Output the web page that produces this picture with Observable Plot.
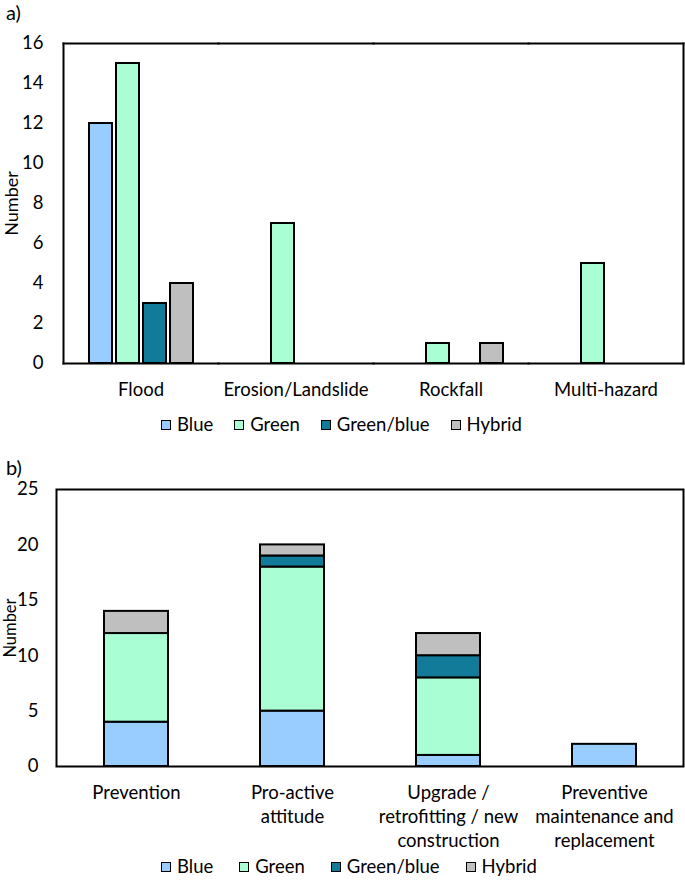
<!DOCTYPE html>
<html>
<head>
<meta charset="utf-8">
<script src="https://cdn.jsdelivr.net/npm/d3@7"></script>
<script src="https://cdn.jsdelivr.net/npm/@observablehq/plot@0.6"></script>
<style>
  html, body { margin: 0; padding: 0; background: white; }
  body { width: 685px; height: 881px; position: relative; font-family: Lato, "Open Sans", sans-serif; color: black; overflow: hidden; }
  .panel-label { position: absolute; left: 6px; font-size: 20px; line-height: 20px; }
  .chart { position: absolute; left: 0; }
  .legend { position: absolute; display: flex; align-items: center; font-size: 18.5px; line-height: 19px; }
  .legend .item { display: flex; align-items: center; }
  .legend .sw { width: 8px; height: 8px; border: 1.5px solid black; margin-right: 6px; }
</style>
</head>
<body>
<div class="panel-label" style="top:2px">a)</div>
<div id="chartA" class="chart" style="top:0px"></div>
<div id="legendA" class="legend" style="top:415px; left:161px; gap:21px"></div>
<div class="panel-label" style="top:457px">b)</div>
<div id="chartB" class="chart" style="top:460px"></div>
<div id="legendB" class="legend" style="top:857px; left:161px; gap:26px"></div>
<script>
// ---- data ----
const types = ["Blue", "Green", "Green/blue", "Hybrid"];
const typeColors = ["#99CCFF", "#A9FED4", "#127B99", "#BFBFBF"];

// a) by hazard
const hazards = ["Flood", "Erosion/Landslide", "Rockfall", "Multi-hazard"];
const blueA = [12, 0, 0, 0];
const greenA = [15, 7, 1, 5];
const greenBlueA = [3, 0, 0, 0];
const hybridA = [4, 0, 1, 0];
const yTicksA = [0, 2, 4, 6, 8, 10, 12, 14, 16];

// b) by approach
const approaches = ["Prevention", "Pro-active attitude", "Upgrade / retrofitting / new construction", "Preventive maintenance and replacement"];
const approachTickLabels = ["Prevention", "Pro-active\nattitude", "Upgrade /\nretrofitting / new\nconstruction", "Preventive\nmaintenance and\nreplacement"];
const blueB = [4, 5, 1, 2];
const greenB = [8, 13, 7, 0];
const greenBlueB = [0, 1, 2, 0];
const hybridB = [2, 1, 2, 0];
const yTicksB = [0, 5, 10, 15, 20, 25];

// ---- tables ----
const seriesA = [blueA, greenA, greenBlueA, hybridA];
const rowsA = [];
hazards.forEach((h, i) => types.forEach((t, j) => {
  if (seriesA[j][i] > 0) rowsA.push({hazard: h, type: t, value: seriesA[j][i]});
}));
const seriesB = [blueB, greenB, greenBlueB, hybridB];
const rowsB = [];
approaches.forEach((a, i) => types.forEach((t, j) => {
  if (seriesB[j][i] > 0) rowsB.push({approach: a, type: t, value: seriesB[j][i]});
}));

const style = {fontFamily: "Lato, 'Open Sans', sans-serif", fontSize: "18.5px", color: "black", overflow: "visible"};

const chartA = Plot.plot({
  width: 685, height: 405,
  marginTop: 43, marginBottom: 42, marginLeft: 63, marginRight: 2,
  style,
  fx: {domain: hazards, padding: 0},
  x: {domain: types, paddingInner: 0.16, paddingOuter: 0.85, axis: null},
  y: {domain: [0, 16]},
  color: {domain: types, range: typeColors},
  marks: [
    Plot.barY(rowsA, {fx: "hazard", x: "type", y: "value", fill: "type", stroke: "black", strokeWidth: 2}),
    Plot.frame({anchor: "top", stroke: "black", strokeWidth: 2}),
    Plot.frame({anchor: "bottom", stroke: "black", strokeWidth: 2}),
    Plot.frame({anchor: "left", facetAnchor: "left", stroke: "black", strokeWidth: 2}),
    Plot.frame({anchor: "right", facetAnchor: "right", stroke: "black", strokeWidth: 2}),
    Plot.axisY({ticks: yTicksA, tickSize: 0, tickPadding: 20, label: null}),
    Plot.axisY({ticks: [], tickSize: 0, label: "Number", labelAnchor: "center", labelArrow: "none", labelOffset: 58, fontSize: 18}),
    Plot.axisFx({anchor: "bottom", tickSize: 0, tickPadding: 19, label: null})
  ]
});
document.getElementById("chartA").append(chartA);

const chartB = Plot.plot({
  width: 685, height: 395,
  marginTop: 29, marginBottom: 89, marginLeft: 56, marginRight: 2,
  style,
  x: {domain: approaches, paddingInner: 0.59, paddingOuter: 0.295},
  y: {domain: [0, 25]},
  color: {domain: types, range: typeColors},
  marks: [
    Plot.barY(rowsB, {x: "approach", y: "value", fill: "type", stroke: "black", strokeWidth: 2}),
    Plot.frame({stroke: "black", strokeWidth: 2}),
    Plot.axisY({ticks: yTicksB, tickSize: 0, tickPadding: 18, label: null}),
    Plot.axisY({ticks: [], tickSize: 0, label: "Number", labelAnchor: "center", labelArrow: "none", labelOffset: 52, fontSize: 16.5}),
    Plot.axisX({tickSize: 0, tickPadding: 15, tickFormat: d => approachTickLabels[approaches.indexOf(d)], lineHeight: 1.3, label: null})
  ]
});
document.getElementById("chartB").append(chartB);

function legend(id) {
  const root = d3.select("#" + id);
  types.forEach((t, i) => {
    const item = root.append("div").attr("class", "item");
    item.append("div").attr("class", "sw").style("background", typeColors[i]);
    item.append("span").text(t);
  });
}
legend("legendA");
legend("legendB");
</script>
</body>
</html>
